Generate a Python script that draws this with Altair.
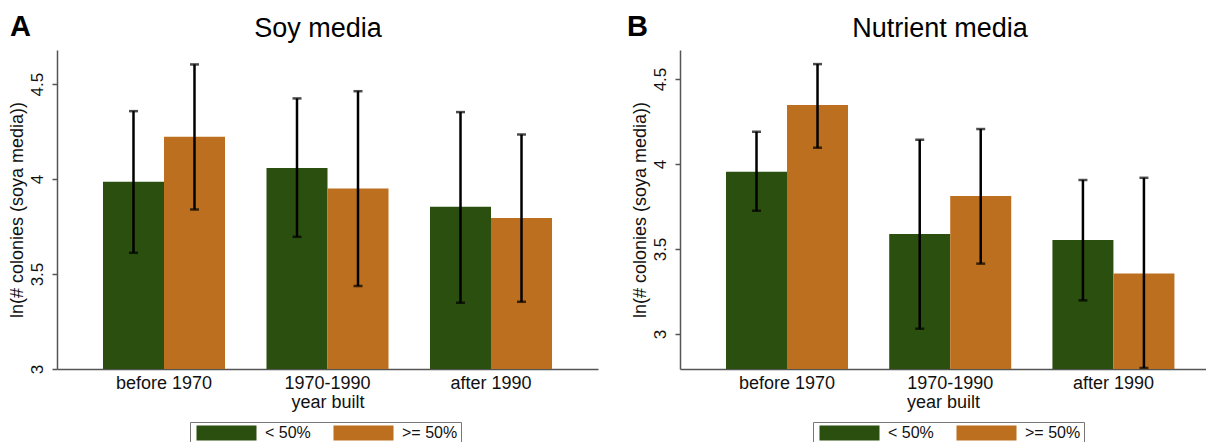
import altair as alt
import pandas as pd

periods = ["before 1970", "1970-1990", "after 1990"]
groups = ["< 50%", ">= 50%"]

# Panel A: Soy media
soy_low_mean = [3.986, 4.058, 3.854]
soy_low_lo = [3.612, 3.696, 3.349]
soy_low_hi = [4.358, 4.425, 4.353]
soy_high_mean = [4.223, 3.951, 3.795]
soy_high_lo = [3.840, 3.437, 3.354]
soy_high_hi = [4.604, 4.463, 4.235]

# Panel B: Nutrient media
nut_low_mean = [3.955, 3.588, 3.553]
nut_low_lo = [3.725, 3.031, 3.198]
nut_low_hi = [4.190, 4.143, 3.906]
nut_high_mean = [4.347, 3.812, 3.356]
nut_high_lo = [4.096, 3.414, 2.800]
nut_high_hi = [4.588, 4.206, 3.919]

colors = ["#2B4F0E", "#BC6F1F"]
FONT = "Liberation Sans"


def build_df(lm, ll, lh, hm, hl, hh):
    rows = []
    for i, p in enumerate(periods):
        rows.append({"period": p, "group": groups[0], "mean": lm[i], "lo": ll[i], "hi": lh[i]})
        rows.append({"period": p, "group": groups[1], "mean": hm[i], "lo": hl[i], "hi": hh[i]})
    return pd.DataFrame(rows)


def panel(df, title, letter, width, ydomain, xscale, title_x, letter_x):
    base = alt.Chart(df)
    x = alt.X("period:N", sort=periods, scale=xscale,
              axis=alt.Axis(title="year built", labelAngle=0, ticks=False,
                            labelFontSize=18, titleFontSize=18, labelPadding=5,
                            titlePadding=1, titleFontWeight="normal",
                            domainColor="#555555", domainWidth=1.5,
                            labelColor="#111111", titleColor="#111111",
                            labelFont=FONT, titleFont=FONT))
    xo = alt.XOffset("group:N", sort=groups,
                     scale=alt.Scale(paddingInner=0, paddingOuter=0))
    y = alt.Y("mean:Q",
              scale=alt.Scale(domain=ydomain, zero=False, nice=False),
              axis=alt.Axis(title="ln(# colonies (soya media))", values=[3, 3.5, 4, 4.5],
                            format=".1~f",
                            grid=False, labelAngle=270, labelAlign="center",
                            labelBaseline="bottom", labelFontSize=17, labelPadding=6,
                            titleFontSize=18, titlePadding=2, titleFontWeight="normal",
                            tickSize=5, tickColor="#555555", tickWidth=1.5,
                            domainColor="#555555", domainWidth=1.5,
                            labelColor="#111111", titleColor="#111111",
                            labelFont=FONT, titleFont=FONT))
    color = alt.Color("group:N", sort=groups,
                      scale=alt.Scale(domain=groups, range=colors),
                      legend=alt.Legend(title=None, orient="none", legendX=133, legendY=372,
                                        direction="horizontal",
                                        symbolType="M-4,-1H4V1H-4Z", symbolSize=225,
                                        symbolStrokeWidth=0, symbolOffset=25.5,
                                        labelFontSize=16, labelFont=FONT, labelColor="#111111",
                                        labelOffset=30.5, columnPadding=19,
                                        strokeColor="#777777", padding=3,
                                        fillColor="white"))
    bars = base.mark_bar(clip=True).encode(x=x, xOffset=xo, y=y, color=color)
    rules = base.mark_rule(color="black", strokeWidth=2.5, clip=True).encode(
        x=alt.X("period:N", sort=periods), xOffset=xo,
        y=alt.Y("lo:Q"), y2="hi:Q")
    caps_lo = base.mark_tick(color="black", size=9, thickness=2.5, clip=True).encode(
        x=alt.X("period:N", sort=periods), xOffset=xo, y=alt.Y("lo:Q"))
    caps_hi = base.mark_tick(color="black", size=9, thickness=2.5, clip=True).encode(
        x=alt.X("period:N", sort=periods), xOffset=xo, y=alt.Y("hi:Q"))
    lab = alt.Chart(pd.DataFrame({"t": [letter]})).mark_text(
        font=FONT, fontSize=29, fontWeight="bold", align="left", baseline="alphabetic",
        color="black").encode(text="t:N", x=alt.value(letter_x), y=alt.value(-14))
    ttl = alt.Chart(pd.DataFrame({"t": [title]})).mark_text(
        font=FONT, fontSize=27, fontWeight="normal", align="center", baseline="alphabetic",
        color="black").encode(text="t:N", x=alt.value(title_x), y=alt.value(-13))
    return alt.layer(bars, rules, caps_lo, caps_hi, lab, ttl).properties(
        width=width, height=319)


df_soy = build_df(soy_low_mean, soy_low_lo, soy_low_hi, soy_high_mean, soy_high_lo, soy_high_hi)
df_nut = build_df(nut_low_mean, nut_low_lo, nut_low_hi, nut_high_mean, nut_high_lo, nut_high_hi)

left = panel(df_soy, "Soy media", "A", 541, [3, 4.68],
             alt.Scale(paddingInner=0.2538, paddingOuter=0.2813), 261, -47)
right = panel(df_nut, "Nutrient media", "B", 526, [2.794, 4.671],
              alt.Scale(paddingInner=0.2525, paddingOuter=0.2377, align=0.593), 260, -53)

chart = alt.hconcat(left, right, spacing=29).resolve_scale(
    color="independent", y="independent", x="independent"
).resolve_legend(color="independent").properties(
    padding={"left": 0, "top": 5, "right": 0, "bottom": 0},
    background="white"
).configure_view(stroke="transparent", strokeWidth=0)

chart.save("out.html", embed_options={"renderer": "svg", "actions": False})
